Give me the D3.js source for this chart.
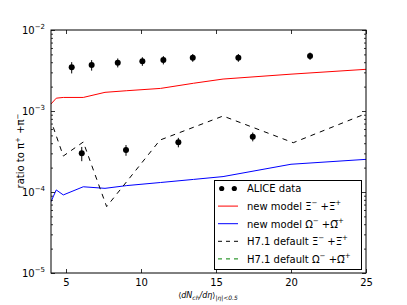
<!DOCTYPE html>
<html><head><meta charset="utf-8">
<script src="https://cdn.jsdelivr.net/npm/d3@7"></script>
<style>body{margin:0;background:#fff}svg{display:block}text{font-family:"DejaVu Sans",sans-serif}</style>
</head><body><svg id="c" width="407" height="305"></svg>
<script>
// ALICE data (two sets: Xi and Omega), drawn as a single legend entry
const aliceXiX = [5.38, 6.71, 8.45, 10.09, 11.49, 13.45, 16.49, 21.27];
const aliceXiY = [3.46e-3, 3.70e-3, 3.95e-3, 4.11e-3, 4.26e-3, 4.55e-3, 4.55e-3, 4.77e-3];
const aliceXiErr = [0.55e-3, 0.55e-3, 0.5e-3, 0.5e-3, 0.5e-3, 0.5e-3, 0.5e-3, 0.5e-3];
const aliceOmX = [6.05, 9.0, 12.49, 17.45];
const aliceOmY = [3.0e-4, 3.3e-4, 4.11e-4, 4.82e-4];
const aliceOmErr = [0.6e-4, 0.5e-4, 0.55e-4, 0.6e-4];
// model curves
const modelX = [4.0, 4.35, 4.82, 6.15, 7.6, 9.05, 11.3, 13.5, 15.47, 20, 25];
const newXi = [1.22e-3, 1.44e-3, 1.47e-3, 1.47e-3, 1.70e-3, 1.78e-3, 1.90e-3, 2.2e-3, 2.48e-3, 2.85e-3, 3.27e-3];
const newOm = [7.6e-5, 1.06e-4, 9.2e-5, 1.16e-4, 1.11e-4, 1.2e-4, 1.31e-4, 1.43e-4, 1.55e-4, 2.2e-4, 2.53e-4];
const h7X = [4.15, 4.82, 6.15, 7.71, 11.27, 15.47, 20.15, 24.93];
const h7Xi = [6.3e-4, 2.78e-4, 4.14e-4, 6.6e-5, 4.38e-4, 8.67e-4, 4.06e-4, 9.18e-4];
const xTicks = [5, 10, 15, 20, 25];
const yDecades = [-5, -4, -3, -2];

const svg = d3.select("#c");
const L = 51, R = 366, T = 30, B = 273;
const x = d3.scaleLinear().domain([4, 25]).range([L, R]);
const y = d3.scaleLog().domain([1e-5, 1e-2]).range([B, T]);

const defs = svg.append("defs");
defs.append("clipPath").attr("id", "clip").append("rect").attr("x", L).attr("y", T).attr("width", R - L).attr("height", B - T);
const plot = svg.append("g").attr("clip-path", "url(#clip)");

const line = d3.line().x(d => x(d[0])).y(d => y(d[1]));
plot.append("path").datum(modelX.map((v, i) => [v, newXi[i]])).attr("d", line)
  .attr("fill", "none").attr("stroke", "#ff0000").attr("stroke-width", 1);
plot.append("path").datum(modelX.map((v, i) => [v, newOm[i]])).attr("d", line)
  .attr("fill", "none").attr("stroke", "#0000ff").attr("stroke-width", 1);
plot.append("path").datum(h7X.map((v, i) => [v, h7Xi[i]])).attr("d", line)
  .attr("fill", "none").attr("stroke", "#000").attr("stroke-width", 1).attr("stroke-dasharray", "5,5");

const pts = aliceXiX.map((v, i) => [v, aliceXiY[i], aliceXiErr[i]])
  .concat(aliceOmX.map((v, i) => [v, aliceOmY[i], aliceOmErr[i]]));
const pg = plot.selectAll("g.pt").data(pts).join("g");
pg.append("line").attr("x1", d => x(d[0])).attr("x2", d => x(d[0]))
  .attr("y1", d => y(d[1] + d[2])).attr("y2", d => y(d[1] - d[2])).attr("stroke", "#000").attr("stroke-width", 1);
pg.append("circle").attr("cx", d => x(d[0])).attr("cy", d => y(d[1])).attr("r", 3).attr("fill", "#000");

// axes: ticks inside on all four sides
const ax = svg.append("g");
function minorY() { const a = []; for (let e = -5; e < -2; e++) for (let m = 2; m <= 9; m++) a.push(m * Math.pow(10, e)); return a; }
ax.append("g").attr("transform", `translate(0,${B})`).call(d3.axisBottom(x).tickValues(xTicks).tickSize(-4).tickPadding(6).tickFormat(d3.format("d")))
  .call(g => { g.select(".domain").remove(); g.selectAll("text").attr("font-size", 10).attr("fill", "#000").attr("font-family", "DejaVu Sans"); });
ax.append("g").attr("transform", `translate(0,${T})`).call(d3.axisTop(x).tickValues(xTicks).tickSize(-4).tickFormat(""))
  .call(g => g.select(".domain").remove());
[[L, d3.axisLeft], [R, d3.axisRight]].forEach(([px, f]) => {
  ax.append("g").attr("transform", `translate(${px},0)`).call(f(y).tickValues(yDecades.map(e => Math.pow(10, e))).tickSize(-4).tickFormat(""))
    .call(g => g.select(".domain").remove());
  ax.append("g").attr("transform", `translate(${px},0)`).call(f(y).tickValues(minorY()).tickSize(-2).tickFormat(""))
    .call(g => g.select(".domain").remove());
});
ax.selectAll("line").attr("stroke", "#000").attr("stroke-width", 0.8);
svg.append("rect").attr("x", L).attr("y", T).attr("width", R - L).attr("height", B - T)
  .attr("fill", "none").attr("stroke", "#000").attr("stroke-width", 1);

// y tick labels 10^e
yDecades.forEach(e => {
  const t = svg.append("text").attr("x", 45).attr("y", y(Math.pow(10, e)) + 4).attr("text-anchor", "end").attr("font-size", 10);
  t.append("tspan").text("10");
  t.append("tspan").attr("font-size", 7).attr("dy", -5).text("\u2212" + (-e));
});

// axis labels
const xl = svg.append("text").attr("x", 208).attr("y", 298).attr("text-anchor", "middle").attr("font-size", 8).attr("font-style", "italic");
xl.append("tspan").attr("font-style", "normal").text("\u27e8");
xl.append("tspan").text("dN");
xl.append("tspan").attr("font-size", 6).attr("dy", 2).text("ch");
xl.append("tspan").attr("dy", -2).text("/d\u03b7");
xl.append("tspan").attr("font-style", "normal").text("\u27e9");
xl.append("tspan").attr("font-size", 6).attr("dy", 2).text("|\u03b7|<0.5");

const yl = svg.append("text").attr("transform", "translate(24,151) rotate(-90)").attr("text-anchor", "middle").attr("font-size", 10);
yl.append("tspan").text("ratio to \u03c0");
yl.append("tspan").attr("font-size", 7).attr("dy", -4).text("+");
yl.append("tspan").attr("dy", 4).text(" +\u03c0");
yl.append("tspan").attr("font-size", 7).attr("dy", -4).text("\u2212");

// legend
const lg = svg.append("g");
lg.append("rect").attr("x", 214.5).attr("y", 180.5).attr("width", 147).attr("height", 89).attr("fill", "#fff").attr("stroke", "#000").attr("stroke-width", 1);
const rows = [
  { type: "pts", parts: [["ALICE data"]] },
  { type: "line", color: "#ff0000", dash: null, parts: [["new model \u039e"], ["\u2212", "sup"], [" +\u039e\u0305"], ["+", "sup"]] },
  { type: "line", color: "#0000ff", dash: null, parts: [["new model \u03a9"], ["\u2212", "sup"], [" +\u03a9\u0305"], ["+", "sup"]] },
  { type: "line", color: "#000", dash: "4,4", parts: [["H7.1 default \u039e"], ["\u2212", "sup"], [" +\u039e\u0305"], ["+", "sup"]] },
  { type: "line", color: "#008000", dash: "4,4", parts: [["H7.1 default \u03a9"], ["\u2212", "sup"], [" +\u03a9\u0305"], ["+", "sup"]] }
];
rows.forEach((r, i) => {
  const yy = 188.5 + i * 17.6;
  if (r.type === "pts") {
    [221.7, 234.3].forEach(cx => lg.append("circle").attr("cx", cx).attr("cy", yy).attr("r", 2.6).attr("fill", "#000"));
  } else {
    lg.append("line").attr("x1", 218).attr("x2", 238).attr("y1", yy).attr("y2", yy).attr("stroke", r.color).attr("stroke-width", 1)
      .attr("stroke-dasharray", r.dash);
  }
  const t = lg.append("text").attr("x", 247).attr("y", yy + 3.8).attr("font-size", 10);
  let up = false;
  r.parts.forEach(p => {
    const sp = t.append("tspan").text(p[0]);
    if (p[1] === "sup") { sp.attr("font-size", 7).attr("dy", -5); up = true; }
    else if (up) { sp.attr("dy", 5); up = false; }
  });
});
</script></body></html>
